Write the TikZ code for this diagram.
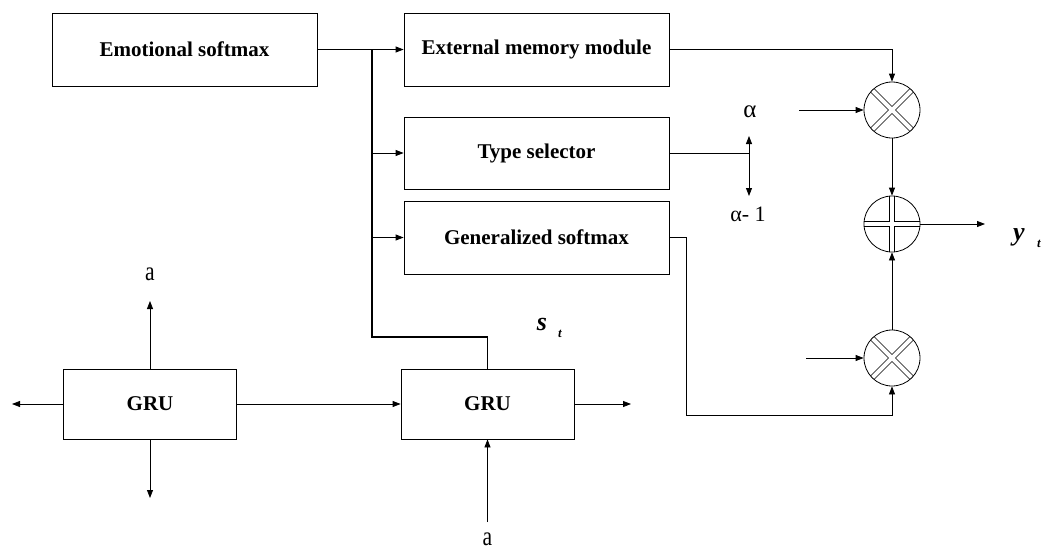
\documentclass[tikz,border=0pt]{standalone}
\usepackage{fontspec}
\setmainfont{Liberation Serif}
\usetikzlibrary{arrows.meta}
\tikzset{
  base/.style={line width=0.8pt},
  blk/.style={base, draw, rectangle, inner sep=0pt, minimum width=265pt, minimum height=73pt,
    font=\fontsize{21}{25}\selectfont\bfseries},
  gru/.style={blk, minimum width=173pt, minimum height=70pt},
  arr/.style={base, -{Triangle[length=8pt,width=6pt]}},
  darr/.style={base, {Triangle[length=8pt,width=6pt]}-{Triangle[length=8pt,width=6pt]}},
  bus/.style={line width=1.2pt},
  lbl/.style={inner sep=0pt, anchor=base, font=\fontsize{27}{28}\selectfont},
  glbl/.style={inner sep=0pt, font=\fontsize{22}{26}\selectfont},
  vlbl/.style={inner sep=0pt, font=\fontsize{26}{30}\selectfont\bfseries\itshape},
  mult/.style={base, draw, circle, inner sep=0pt, minimum size=56pt,
    path picture={
      \draw[line width=5.6pt]
        (path picture bounding box.north west) -- (path picture bounding box.south east)
        (path picture bounding box.north east) -- (path picture bounding box.south west);
      \draw[white, line width=4pt]
        (path picture bounding box.north west) -- (path picture bounding box.south east)
        (path picture bounding box.north east) -- (path picture bounding box.south west);
    }},
  summ/.style={base, draw, circle, inner sep=0pt, minimum size=56pt,
    path picture={
      \draw[line width=5.6pt]
        (path picture bounding box.north) -- (path picture bounding box.south)
        (path picture bounding box.east) -- (path picture bounding box.west);
      \draw[white, line width=4pt]
        (path picture bounding box.north) -- (path picture bounding box.south)
        (path picture bounding box.east) -- (path picture bounding box.west);
    }},
}
\begin{document}
\begin{tikzpicture}[x=1pt, y=-1pt]
\useasboundingbox (0,0) rectangle (1045,552);

% processing blocks
\node[blk] (es) at (184.5,49.5) {Emotional softmax};
\node[blk] (em) at (536.5,49.5) {External memory module};
\node[blk, minimum height=72pt] (ts) at (536.5,153) {Type selector};
\node[blk] (gs) at (536.5,237.5) {Generalized softmax};
\node[gru] (g1) at (150,404) {GRU};
\node[gru] (g2) at (487.5,404) {GRU};

% combination units
\node[mult] (m1) at (892,110) {};
\node[summ] (pl) at (892,224) {};
\node[mult] (m2) at (892,358) {};

% helper points
\coordinate (bj) at (372,337);
\coordinate (sel) at (749,153);
\coordinate (sup) at (749,136);
\coordinate (sdn) at (749,196);
\coordinate (gc) at (686,415);
\coordinate (ain) at (799,110);
\coordinate (bin) at (806,358);
\coordinate (yo) at (985,224);
\coordinate (gl) at (12,404);
\coordinate (gu) at (150,301);
\coordinate (gd) at (150,498);
\coordinate (gr) at (631,404);
\coordinate (gin) at (487.5,522);

% labels
\node[lbl] (la1) at (150,280) {\scalebox{0.8}[1]{a}};
\node[lbl] (la2) at (487.5,545) {\scalebox{0.8}[1]{a}};
\node[glbl] (lal) at (750,112) {\fontsize{25}{28}\selectfont α};
\node[glbl] (lam) at (748,214) {α- 1};
\node[vlbl, anchor=base] (ls) at (542,330) {s};
\node[vlbl, anchor=base, font=\fontsize{13}{15}\selectfont\bfseries\itshape] (lst) at (560,337) {t};
\node[vlbl, anchor=base] (ly) at (1019,240) {y};
\node[vlbl, anchor=base, font=\fontsize{13}{15}\selectfont\bfseries\itshape] (lyt) at (1039,247) {t};

% state bus from the second GRU to the decoder blocks
\draw[arr] (es.east) -- (em.west);
\draw[bus] (g2.north) |- (bj) -- (bj |- es.east);
\draw[arr] (bj |- ts.west) -- (ts.west);
\draw[arr] (bj |- gs.west) -- (gs.west);

% type selector output
\draw[base] (ts.east) -- (sel);
\draw[darr] (sup) -- (sdn);

% output combination
\draw[arr] (em.east) -| (m1.north);
\draw[arr] (ain) -- (m1.west);
\draw[arr] (m1.south) -- (pl.north);
\draw[arr] (m2.north) -- (pl.south);
\draw[arr] (pl.east) -- (yo);
\draw[arr] (gs.east) -| (gc) -| (m2.south);
\draw[arr] (bin) -- (m2.west);

% recurrent units
\draw[arr] (g1.west) -- (gl);
\draw[arr] (g1.north) -- (gu);
\draw[arr] (g1.south) -- (gd);
\draw[arr] (g1.east) -- (g2.west);
\draw[arr] (g2.east) -- (gr);
\draw[arr] (gin) -- (g2.south);
\end{tikzpicture}
\end{document}
